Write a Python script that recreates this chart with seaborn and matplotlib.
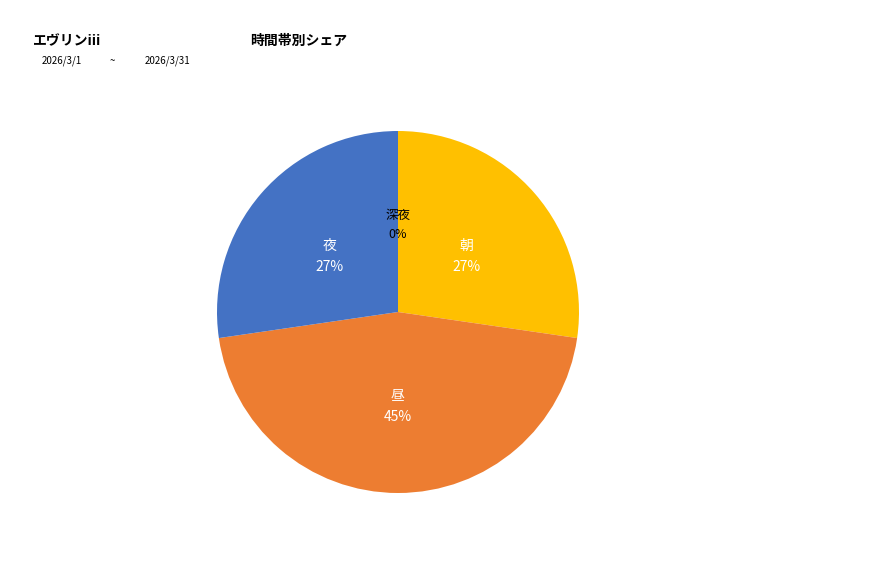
import numpy as np
import matplotlib
matplotlib.use("Agg")
import matplotlib.pyplot as plt
import seaborn as sns

# data
categories = ["朝", "昼", "夜", "深夜"]
shares = [27.3, 45.4, 27.3, 0.0]
colors = ["#FFC000", "#ED7D31", "#4472C4", "#A5A5A5"]
label_colors = ["white", "white", "white", "black"]
store_name = "エヴリンiii"
chart_title = "時間帯別シェア"
date_from = "2026/3/1"
date_to = "2026/3/31"

sns.set_theme(style="white")
plt.rcParams["font.family"] = ["Noto Sans CJK JP", "DejaVu Sans"]
plt.rcParams["text.color"] = "black"

W, H = 877, 578
fig = plt.figure(figsize=(W / 100, H / 100), dpi=100)
fig.patch.set_facecolor("white")

cx, cy, r = 398, 312, 181
ax = fig.add_axes([(cx - r) / W, (H - cy - r) / H, 2 * r / W, 2 * r / H])
palette = sns.color_palette(colors)
wedges, _ = ax.pie(shares, colors=palette, startangle=90, counterclock=False,
                   radius=1.0, wedgeprops=dict(linewidth=0))
ax.set_xlim(-1, 1)
ax.set_ylim(-1, 1)
ax.set_aspect("equal")
ax.axis("off")

total = sum(shares)
start = 90.0
for cat, val, lc in zip(categories, shares, label_colors):
    sweep = val / total * 360.0
    mid = np.deg2rad(start - sweep / 2)
    start -= sweep
    x, y = 0.5 * np.cos(mid), 0.5 * np.sin(mid) - 0.02
    fs = 9 if val == 0 else 10
    ax.text(x, y, f"{cat}\n{val:.0f}%", ha="center", va="center", color=lc,
            fontsize=fs, linespacing=1.65)

fig.text(33 / W, 1 - 41 / H, store_name, fontsize=10, fontweight="bold", va="center", ha="left", color="black")
fig.text(250 / W, 1 - 41 / H, chart_title, fontsize=10, fontweight="bold", va="center", ha="left", color="black")
fig.text(42 / W, 1 - 61 / H, date_from, fontsize=7, va="center", ha="left", color="black")
fig.text(110 / W, 1 - 61 / H, "~", fontsize=7, va="center", ha="left", color="black")
fig.text(145 / W, 1 - 61 / H, date_to, fontsize=7, va="center", ha="left", color="black")

fig.savefig("out.png", dpi=100, facecolor="white")
